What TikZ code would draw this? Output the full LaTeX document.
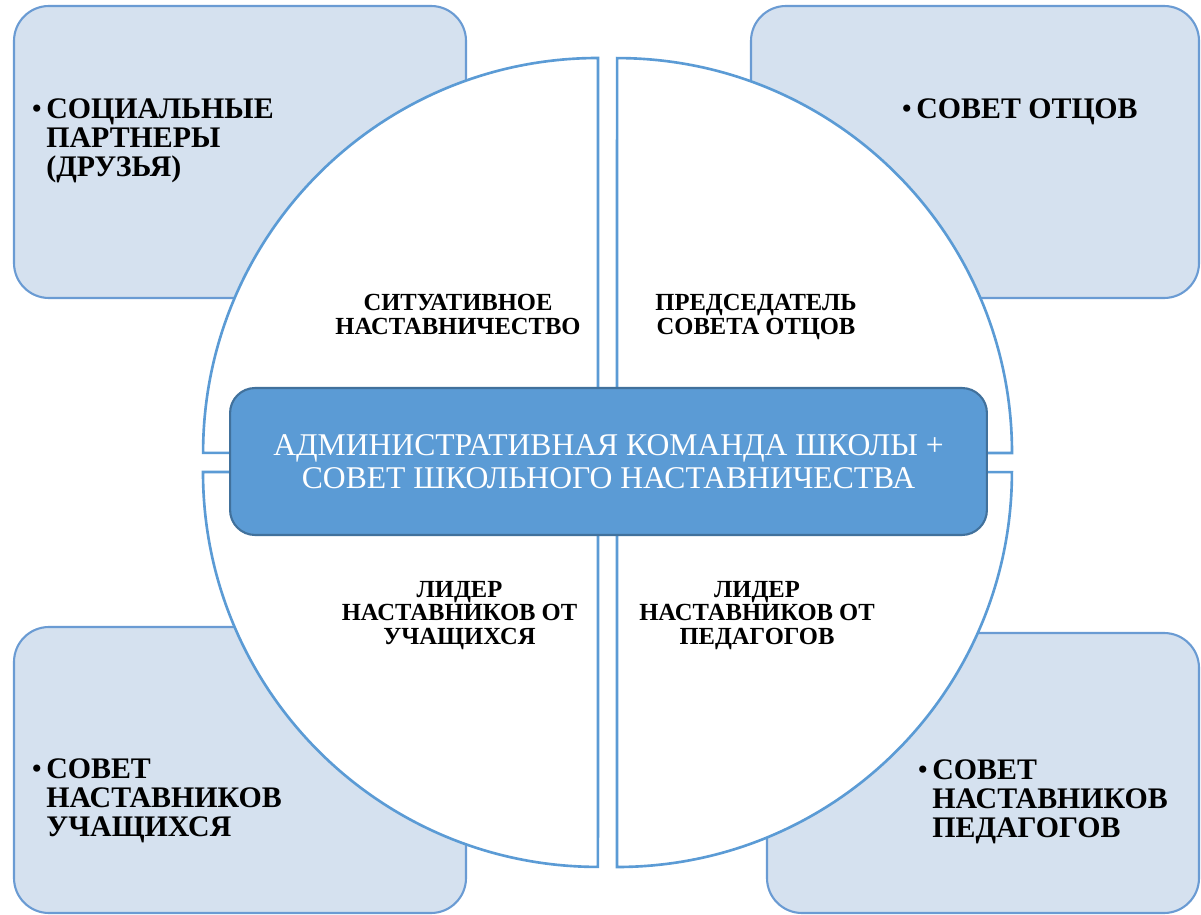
\documentclass[tikz,border=0pt]{standalone}
\usepackage{fontspec}
\setmainfont{Liberation Serif}
\definecolor{boxfill}{HTML}{D5E1EF}
\definecolor{boxline}{HTML}{6A9BD3}
\definecolor{ringline}{HTML}{5B9BD5}
\definecolor{corefill}{HTML}{5B9BD5}
\definecolor{coreline}{HTML}{41719C}
\newcommand{\dotmark}{\llap{\mdseries•\hspace{2.5pt}}}
\begin{document}
\begin{tikzpicture}[x=0.02cm, y=0.02cm,
    partbox/.style={draw=boxline, line width=1.2pt, fill=boxfill, rounded corners=0.7cm},
    quarter/.style={draw=ringline, line width=1.5pt, fill=white},
    core/.style={draw=coreline, line width=1.2pt, fill=corefill, rounded corners=0.5cm,
      text=white, align=center, minimum width=15.14cm, minimum height=2.94cm,
      font=\fontsize{18}{18.7}\selectfont},
    bigtext/.style={anchor=north west, inner sep=0pt, align=left,
      font=\fontsize{17}{16.6}\selectfont\bfseries},
    smalltext/.style={anchor=north, inner sep=0pt, align=center,
      font=\fontsize{14}{13.3}\selectfont\bfseries}]
  \useasboundingbox (0,0) rectangle (1201,914);
  % corner boxes
  \draw[partbox] (14,616) rectangle (466,908);
  \draw[partbox] (751,616) rectangle (1199,908);
  \draw[partbox] (14,1) rectangle (466,287);
  \draw[partbox] (767,1) rectangle (1199,281);
  % four quarters of the circle
  \draw[quarter] (598,461) -- ++(0,395) arc[start angle=90, end angle=180, radius=7.9cm] -- cycle;
  \draw[quarter] (617,461) -- ++(395,0) arc[start angle=0, end angle=90, radius=7.9cm] -- cycle;
  \draw[quarter] (598,442) -- ++(-395,0) arc[start angle=180, end angle=270, radius=7.9cm] -- cycle;
  \draw[quarter] (617,442) -- ++(0,-395) arc[start angle=270, end angle=360, radius=7.9cm] -- cycle;
  % centre
  \node[core] (admin) at (608.5,452.5) {АДМИНИСТРАТИВНАЯ КОМАНДА ШКОЛЫ +\\СОВЕТ ШКОЛЬНОГО НАСТАВНИЧЕСТВА};
  % corner texts
  \node[bigtext] (partners) at (46,816) {\dotmark СОЦИАЛЬНЫЕ\\ПАРТНЕРЫ\\(ДРУЗЬЯ)};
  \node[bigtext] (fathers) at (916,816) {\dotmark СОВЕТ ОТЦОВ};
  \node[bigtext] (pupils) at (46,156) {\dotmark СОВЕТ\\НАСТАВНИКОВ\\УЧАЩИХСЯ};
  \node[bigtext] (teachers) at (932,155) {\dotmark СОВЕТ\\НАСТАВНИКОВ\\ПЕДАГОГОВ};
  % quarter texts
  \node[smalltext] (situative) at (458,620) {СИТУАТИВНОЕ\\НАСТАВНИЧЕСТВО};
  \node[smalltext] (chairman) at (756,620) {ПРЕДСЕДАТЕЛЬ\\СОВЕТА ОТЦОВ};
  \node[smalltext] (pupilhead) at (459.5,333) {ЛИДЕР\\НАСТАВНИКОВ ОТ\\УЧАЩИХСЯ};
  \node[smalltext] (teacherhead) at (757,333) {ЛИДЕР\\НАСТАВНИКОВ ОТ\\ПЕДАГОГОВ};
\end{tikzpicture}
\end{document}
